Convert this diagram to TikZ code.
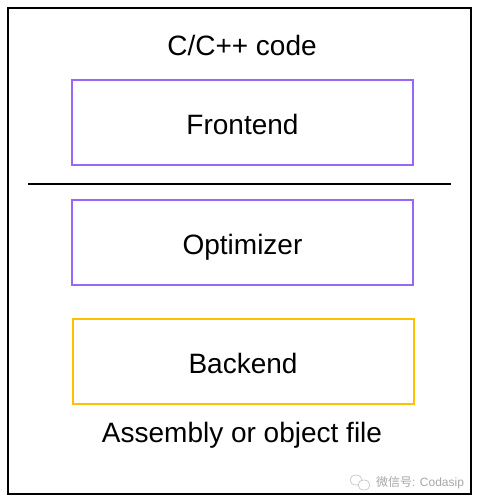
\documentclass[tikz,border=0pt]{standalone}
\usepackage{fontspec}
\setmainfont{Liberation Sans}
\newfontfamily\cjk{Noto Sans CJK SC}
\usepackage{xcolor}
\usepackage{tikz}
\usetikzlibrary{calc, positioning}

\definecolor{tim}{HTML}{9966F5}
\definecolor{vang}{HTML}{FFC000}

\begin{document}
\begin{tikzpicture}[x=1pt, y=-1pt, font=\fontsize{28}{32}\selectfont,
    stage/.style={draw, line width=2pt, minimum width=341pt, minimum height=85pt,
        inner sep=0pt, text height=23pt, text depth=0pt}]
    % Khung ngoai
    \useasboundingbox (0,0) rectangle (480,504);
    \draw[line width=2pt] (8,8) rectangle (471,494);
    
    % Cac khoi
    \node[anchor=base] (input) at (242,55) {C/C++ code};
    \node[stage, draw=tim] (frontend) at (242.5,122.5) {Frontend};
    \node[stage, draw=tim] (optimizer) at (242.5,242.5) {Optimizer};
    \node[stage, draw=vang] (backend) at (243,361.5) {Backend};
    \node[anchor=base] (output) at (242,442) {Assembly or object file};
    
    % Duong ngan cach
    \draw[line width=2pt] (28,183.5) -- (451,183.5);
    
    % Watermark
    \draw[gray!50, line width=0.6pt] (356,480) ellipse (6 and 5);
    \draw[gray!50, line width=0.6pt, fill=white] (364,485) ellipse (6 and 5);
    \node[anchor=west, gray!70, inner sep=0pt, font=\fontsize{12}{14}\selectfont] (wm) at (376,483) {{\cjk 微信号}: Codasip};
    
\end{tikzpicture}
\end{document}
